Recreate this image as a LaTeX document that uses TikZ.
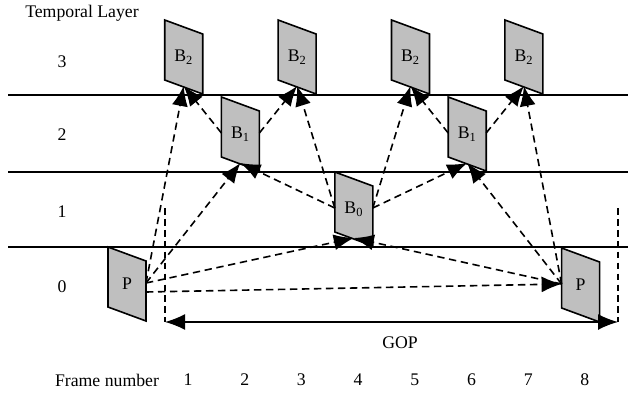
\documentclass[tikz,border=0pt]{standalone}
\usepackage{fontspec}
\setmainfont{Liberation Serif}
\usetikzlibrary{arrows.meta}
\tikzset{
  frm/.style={draw=black, fill=black!25, line width=1.2pt, line join=miter},
  lbl/.style={inner sep=0pt, font=\fontsize{13.3}{16}\selectfont},
  layerline/.style={line width=1.1pt},
  refarrow/.style={line width=1.2pt, dash pattern=on 5.5pt off 3.5pt, -{Latex[length=15pt,width=12pt]}},
  gopmark/.style={line width=1pt, dash pattern=on 5pt off 3.2pt},
  gopar/.style={line width=1.1pt, {Latex[length=15pt,width=12pt]}-{Latex[length=15pt,width=12pt]}},
}
\newcommand\picframe[4]{%
  \draw[frm] (#2,#3) -- ++(38,14) -- ++(0,60) -- ++(-38,-14) -- cycle;
  \node[lbl] (#1) at (#2+19,#3+37) {#4};
  \coordinate (#1-b) at (#2+19,#3+66);
  \coordinate (#1-l) at (#2,#3+36);
  \coordinate (#1-r) at (#2+38,#3+36);
  \coordinate (#1-r2) at (#2+38,#3+45);
}
\begin{document}
\begin{tikzpicture}[x=0.75pt,y=-0.75pt]
\useasboundingbox (0,0) rectangle (628,393);
% layer separators
\coordinate (l1a) at (8,95);  \coordinate (l1b) at (628,95);
\coordinate (l2a) at (8,172); \coordinate (l2b) at (628,172);
\coordinate (l3a) at (8,247); \coordinate (l3b) at (628,247);
\draw[layerline] (l1a) -- (l1b);
\draw[layerline] (l2a) -- (l2b);
\draw[layerline] (l3a) -- (l3b);
% frames
\picframe{f0}{108}{247}{P}
\picframe{f1}{164.7}{20}{B\textsubscript{2}}
\picframe{f2}{221.4}{97}{B\textsubscript{1}}
\picframe{f3}{278.1}{20}{B\textsubscript{2}}
\picframe{f4}{334.8}{172}{B\textsubscript{0}}
\picframe{f5}{391.5}{20}{B\textsubscript{2}}
\picframe{f6}{448.2}{97}{B\textsubscript{1}}
\picframe{f7}{504.9}{20}{B\textsubscript{2}}
\picframe{f8}{561.6}{248}{P}
% reference arrows
\draw[refarrow] (f0-r) -- (f1-b);
\draw[refarrow] (f2-l) -- (f1-b);
\draw[refarrow] (f2-r) -- (f3-b);
\draw[refarrow] (f4-l) -- (f3-b);
\draw[refarrow] (f0-r) -- (f2-b);
\draw[refarrow] (f4-l) -- (f2-b);
\draw[refarrow] (f0-r) -- (f4-b);
\draw[refarrow] (f8-l) -- (f4-b);
\draw[refarrow] (f4-r) -- (f5-b);
\draw[refarrow] (f6-l) -- (f5-b);
\draw[refarrow] (f6-r) -- (f7-b);
\draw[refarrow] (f8-l) -- (f7-b);
\draw[refarrow] (f4-r) -- (f6-b);
\draw[refarrow] (f8-l) -- (f6-b);
\draw[refarrow] (f0-r2) -- (f8-l);
% GOP
\coordinate (gl) at (165,322); \coordinate (gr) at (618,322);
\coordinate (glt) at (165,208); \coordinate (grt) at (618,208);
\draw[gopmark] (glt) -- (gl);
\draw[gopmark] (grt) -- (gr);
\draw[gopar] (gl) -- (gr);
\node[lbl] (gop) at (400,343) {GOP};
% labels
\node[lbl] (tl) at (82,13) {Temporal Layer};
\node[lbl] (t3) at (62,62) {3};
\node[lbl] (t2) at (62,135) {2};
\node[lbl] (t1) at (62,212) {1};
\node[lbl] (t0) at (62,287) {0};
\node[lbl] (fn) at (107,380) {Frame number};
\foreach \k in {1,...,8} {
  \node[lbl] (n\k) at ({188+56.7*(\k-1)},380) {\k};
}
\end{tikzpicture}
\end{document}
